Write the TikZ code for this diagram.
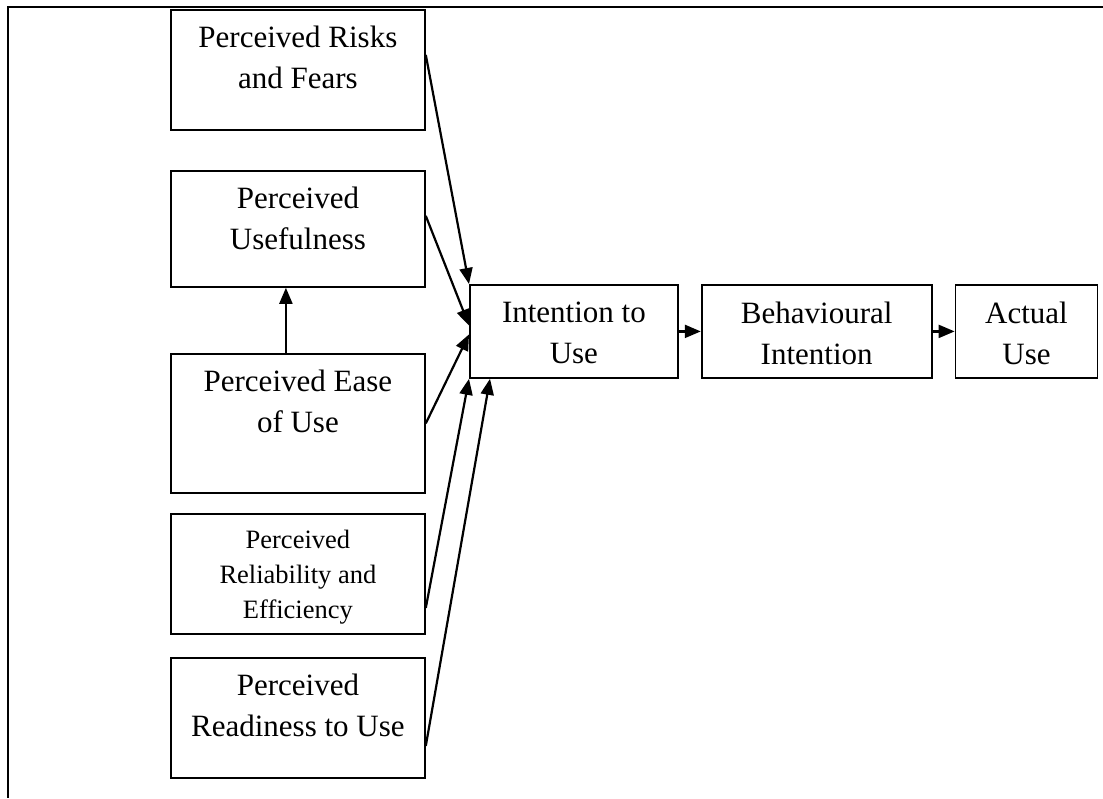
\documentclass[tikz,border=0pt]{standalone}
\usepackage{fontspec}
\setmainfont{Liberation Serif}
\usetikzlibrary{arrows.meta, positioning}
\newcommand{\boxlines}[4]{\parbox[c][#2][t]{#1}{\centering\vspace{#3}#4}}

\tikzset{
  factor/.style={draw, line width=1.8pt, inner sep=0pt, font=\fontsize{31}{41}\selectfont},
  factorsmall/.style={factor, font=\fontsize{26.5}{35}\selectfont},
  link/.style={line width=2.2pt, -{Triangle[length=16pt, width=13pt]}}
}

\begin{document}
\begin{tikzpicture}[x=1pt, y=-1pt]
  \useasboundingbox (0,0) rectangle (1103,798);
  \draw[line width=2.4pt] (1103,7) -- (8,7) -- (8,798);

  % factors on the left
  \node[factor, anchor=north west] (risks) at (170,9) {\boxlines{254pt}{120pt}{16pt}{Perceived Risks\\and Fears}};
  \node[factor, anchor=north west] (useful) at (170,170) {\boxlines{254pt}{116pt}{16pt}{Perceived\\Usefulness}};
  \node[factor, anchor=north west] (ease) at (170,353) {\boxlines{254pt}{139pt}{16pt}{Perceived Ease\\of Use}};
  \node[factorsmall, anchor=north west] (reliab) at (170,513) {\boxlines{254pt}{120pt}{16pt}{Perceived\\Reliability and\\Efficiency}};
  \node[factor, anchor=north west] (ready) at (170,657) {\boxlines{254pt}{120pt}{16pt}{Perceived\\Readiness to Use}};

  % main chain
  \node[factor, anchor=north west] (intention) at (469,284) {\boxlines{208pt}{93pt}{17pt}{Intention to\\Use}};
  \node[factor, right=22pt of intention] (behav) {\boxlines{230pt}{93pt}{17pt}{Behavioural\\Intention}};
  \node[factor, right=22pt of behav] (actual) {\boxlines{142pt}{93pt}{17pt}{Actual\\Use}};

  \draw[link] ([yshift=15pt]risks.east) -- (intention.north west);
  \draw[link] ([yshift=13pt]useful.east) -- ([yshift=6pt]intention.west);
  \draw[link] (ease.east) -- ([yshift=-3pt]intention.west);
  \draw[link] ([yshift=-34pt]reliab.east) -- (intention.south west);
  \draw[link] ([yshift=-28pt]ready.east) -- ([xshift=21pt]intention.south west);
  \draw[link] ([xshift=-12pt]ease.north) -- ([xshift=-12pt]useful.south);
  \draw[link] (intention.east) -- (behav.west);
  \draw[link] (behav.east) -- (actual.west);
\end{tikzpicture}
\end{document}
